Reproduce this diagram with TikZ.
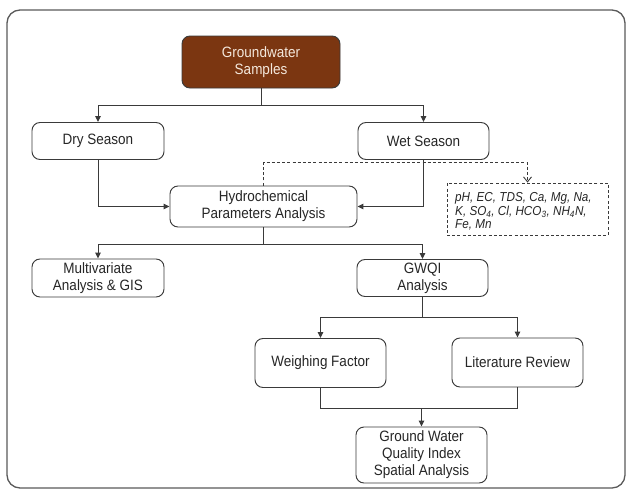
\documentclass[tikz,border=0pt]{standalone}
\usepackage{fontspec}
\setmainfont{Liberation Sans}[FakeStretch=0.9]
\usetikzlibrary{arrows.meta}
\definecolor{brownfill}{HTML}{7B3611}
\definecolor{lightbeige}{HTML}{F4E8DC}
\definecolor{linecol}{HTML}{3A3A3A}
\definecolor{framecol}{HTML}{5A5A5A}
\tikzset{
  box/.style={draw=linecol, line width=0.95pt, rounded corners=8pt, align=center,
    font=\fontsize{15}{17}\selectfont, text=black!85, inner sep=0pt},
  conn/.style={draw=linecol, line width=1.0pt},
  arr/.style={conn, -{Triangle[length=6pt,width=5.5pt]}},
  dsh/.style={draw=linecol, line width=0.9pt, dash pattern=on 3pt off 2.2pt,
    -{Straight Barb[length=5pt,width=8pt]}},
  paramtext/.style={font=\fontsize{13}{13.5}\selectfont\itshape, text=black!85}
}
\begin{document}
\begin{tikzpicture}[x=1pt,y=-1pt]
\useasboundingbox (0,0) rectangle (628,491);
\fill[white] (0,0) rectangle (628,491);
\draw[framecol, line width=1.3pt, rounded corners=13pt] (7,10) rectangle (625,488);

\node[box, fill=brownfill, text=lightbeige, minimum width=158pt, minimum height=52pt] (gs) at (261,62) {Groundwater\\Samples};
\node[box, minimum width=132pt, minimum height=37pt] (dry) at (98,141) {Dry Season};
\node[box, minimum width=131pt, minimum height=37pt] (wet) at (423.5,141) {Wet Season};
\node[box, minimum width=187pt, minimum height=41pt] (hyd) at (263.5,206.5) {Hydrochemical\\Parameters Analysis};
\node[draw=linecol, line width=0.9pt, dash pattern=on 3pt off 2.2pt, minimum width=161pt, minimum height=52pt, inner sep=0pt] (par) at (527.5,209) {};
\node[paramtext, anchor=north west, align=left, inner sep=0pt] (partxt) at (455,192.5) {pH, EC, TDS, Ca, Mg, Na,\\K, SO\textsubscript{4}, Cl, HCO\textsubscript{3}, NH\textsubscript{4}N,\\Fe, Mn};
\node[box, minimum width=132pt, minimum height=38pt] (mv) at (98,278) {Multivariate\\Analysis \& GIS};
\node[box, minimum width=131pt, minimum height=37pt] (gw) at (422.5,278) {GWQI\\Analysis};
\node[box, minimum width=131pt, minimum height=49pt] (wf) at (320.5,363) {Weighing Factor};
\node[box, minimum width=131pt, minimum height=49pt] (lr) at (517.5,362.5) {Literature Review};
\node[box, minimum width=131pt, minimum height=56pt] (gsa) at (421.5,455) {Ground Water\\Quality Index\\Spatial Analysis};

% connectors
\coordinate (j1) at (261,105);
\draw[conn] (gs.south) -- (j1);
\draw[arr] (j1) -| (dry.north);
\draw[arr] (j1) -| (wet.north);

\draw[arr] (dry.south) |- (hyd.west);
\draw[arr] (wet.south) |- (hyd.east);

\draw[dsh] (hyd.north) -- ++(0,-23) -| (par.north);

\coordinate (j2) at (263.5,244);
\draw[conn] (hyd.south) -- (j2);
\draw[arr] (j2) -| (mv.north);
\draw[arr] (j2) -| (gw.north);

\coordinate (j3) at (422.5,317);
\draw[conn] (gw.south) -- (j3);
\draw[arr] (j3) -| (wf.north);
\draw[arr] (j3) -| (lr.north);

\coordinate (j4) at (421.5,408);
\draw[conn] (wf.south) |- (j4) -| (lr.south);
\draw[arr] (j4) -- (gsa.north);
\end{tikzpicture}
\end{document}
